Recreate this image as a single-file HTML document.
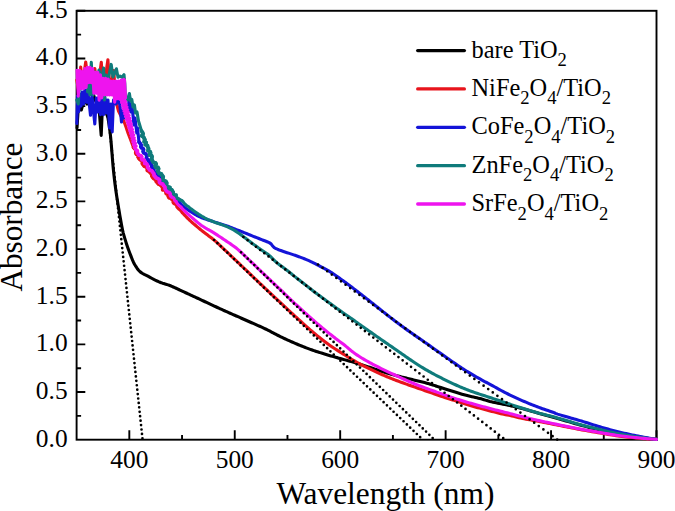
<!DOCTYPE html><html><head><meta charset="utf-8"><style>html,body{margin:0;padding:0;background:#fff;}svg{display:block;}text{font-family:"Liberation Serif", serif;fill:#000;}</style></head><body>
<svg width="675" height="511" viewBox="0 0 675 511">
<rect width="675" height="511" fill="#fff"/>
<rect x="76.6" y="10.8" width="579.90" height="428.90" fill="none" stroke="#000" stroke-width="1.9"/>
<path d="M129.32 439.7V430.20M234.75 439.7V430.20M340.19 439.7V430.20M445.63 439.7V430.20M551.06 439.7V430.20M656.50 439.7V430.20M182.04 439.7V435.00M287.47 439.7V435.00M392.91 439.7V435.00M498.35 439.7V435.00M603.78 439.7V435.00M76.6 392.04H85.30M76.6 344.39H85.30M76.6 296.73H85.30M76.6 249.08H85.30M76.6 201.42H85.30M76.6 153.77H85.30M76.6 106.11H85.30M76.6 58.46H85.30M76.6 10.80H85.30M76.6 415.87H81.10M76.6 368.22H81.10M76.6 320.56H81.10M76.6 272.91H81.10M76.6 225.25H81.10M76.6 177.59H81.10M76.6 129.94H81.10M76.6 82.28H81.10M76.6 34.63H81.10" stroke="#000" stroke-width="1.9" fill="none"/>
<path d="M77.00 128.00L78.00 112.00L79.50 106.00L81.30 110.00L83.00 104.00L85.00 100.00L87.00 104.00L89.00 98.00L91.00 106.00L93.60 95.00L95.00 100.00L97.00 103.00L99.00 108.00L101.20 135.50L102.20 112.00L104.00 108.00L106.00 112.00L108.00 118.00L108.31 120.02L108.52 121.35L108.77 122.97L109.02 124.63L109.26 126.26L109.50 127.92L109.73 129.60L109.95 131.27L110.16 132.92L110.35 134.55L110.52 136.17L110.68 137.77L110.83 139.38L110.98 141.01L111.13 142.67L111.27 144.35L111.41 146.06L111.56 147.80L111.70 149.59L111.85 151.42L112.00 153.29L112.15 155.19L112.30 157.13L112.46 159.09L112.62 161.06L112.78 163.04L112.95 165.03L113.13 167.01L113.32 168.98L113.51 170.95L113.72 172.92L113.93 174.88L114.15 176.84L114.38 178.81L114.61 180.77L114.85 182.73L115.10 184.68L115.35 186.63L115.61 188.57L115.88 190.50L116.15 192.43L116.43 194.34L116.72 196.26L117.02 198.17L117.32 200.10L117.63 202.05L117.95 204.04L118.29 206.08L118.64 208.19L119.00 210.37L119.38 212.61L119.77 214.90L120.17 217.23L120.58 219.55L120.98 221.81L121.37 223.98L121.75 226.01L122.11 227.86L122.44 229.52L122.78 231.09L123.13 232.56L123.50 233.96L123.90 235.38L124.30 236.74L124.70 238.08L125.11 239.41L125.50 240.65L125.87 241.85L126.53 243.97L127.29 246.29L127.73 247.57L128.22 248.90L128.74 250.29L129.29 251.72L129.85 253.19L130.39 254.56L130.89 255.86L131.35 257.09L131.79 258.25L132.65 260.43L133.58 262.48L134.67 264.53L135.86 266.49L137.18 268.45L138.56 270.23L140.23 271.88L142.14 273.25L144.21 274.37L146.32 275.35L148.34 276.39L150.48 277.58L151.63 278.23L152.87 278.92L154.22 279.62L155.69 280.34L157.14 281.02L158.56 281.64L159.94 282.20L161.27 282.71L162.53 283.15L163.71 283.52L165.85 284.18L168.06 284.88L169.26 285.32L170.52 285.80L171.84 286.36L173.27 286.98L174.69 287.62L176.12 288.28L177.45 288.92L178.73 289.52L179.95 290.09L181.12 290.64L183.32 291.65L184.47 292.18L185.65 292.72L186.86 293.27L188.10 293.85L189.37 294.43L190.67 295.04L192.01 295.65L193.37 296.29L194.76 296.94L196.18 297.59L197.63 298.26L199.08 298.94L200.55 299.63L202.03 300.32L203.53 301.02L205.04 301.72L206.56 302.44L208.10 303.16L209.65 303.89L211.21 304.62L212.76 305.34L214.31 306.07L215.84 306.78L217.34 307.47L218.82 308.16L220.28 308.82L221.70 309.46L223.10 310.10L224.49 310.72L225.87 311.33L227.25 311.95L228.66 312.58L230.11 313.22L231.59 313.87L233.12 314.55L234.70 315.25L236.33 315.97L237.99 316.70L239.69 317.45L241.42 318.21L243.15 318.98L244.87 319.74L246.58 320.49L248.28 321.24L249.96 321.98L251.62 322.71L253.26 323.43L254.89 324.14L256.50 324.85L258.09 325.55L259.66 326.25L261.20 326.94L262.71 327.63L264.17 328.31L265.58 328.99L266.95 329.66L268.27 330.32L269.54 330.98L270.78 331.63L271.99 332.28L273.20 332.92L274.41 333.57L275.64 334.21L276.89 334.86L278.16 335.50L279.46 336.15L280.78 336.80L282.13 337.45L283.49 338.10L284.87 338.75L286.27 339.40L287.68 340.05L289.12 340.70L290.58 341.36L292.08 342.02L293.61 342.68L295.17 343.36L296.76 344.03L298.37 344.71L299.99 345.38L301.60 346.03L303.18 346.67L304.72 347.29L306.21 347.87L307.63 348.41L308.99 348.92L310.29 349.39L311.53 349.83L312.73 350.25L313.91 350.64L315.08 351.03L316.28 351.42L317.52 351.81L318.80 352.22L320.15 352.64L321.55 353.08L323.02 353.53L324.53 353.99L326.09 354.46L327.67 354.94L329.27 355.42L330.88 355.89L332.48 356.36L334.08 356.82L335.67 357.28L337.25 357.72L338.82 358.16L340.38 358.59L341.94 359.02L343.50 359.44L345.06 359.87L346.62 360.30L348.18 360.73L349.75 361.17L351.32 361.62L352.91 362.08L354.50 362.55L356.10 363.03L357.69 363.51L359.29 363.99L360.87 364.48L362.43 364.96L363.96 365.44L365.46 365.92L366.92 366.39L368.35 366.86L369.74 367.32L371.10 367.77L372.43 368.23L373.74 368.67L375.03 369.11L376.29 369.54L377.53 369.97L378.75 370.37L379.95 370.77L381.13 371.15L382.28 371.53L384.53 372.23L386.72 372.91L388.91 373.56L391.12 374.19L393.37 374.82L395.65 375.42L397.94 376.02L400.27 376.61L401.44 376.91L402.63 377.21L403.83 377.51L405.04 377.81L406.27 378.11L407.50 378.42L408.73 378.72L409.96 379.02L411.18 379.32L412.39 379.61L413.57 379.90L415.87 380.44L418.07 380.95L420.22 381.45L422.38 381.96L424.58 382.52L426.81 383.14L429.08 383.81L430.23 384.17L431.43 384.54L432.69 384.94L434.03 385.37L435.51 385.84L437.13 386.36L438.91 386.94L440.86 387.57L442.98 388.25L445.25 388.98L447.63 389.75L450.09 390.54L452.57 391.33L455.03 392.10L457.43 392.84L459.74 393.53L461.97 394.17L464.11 394.75L466.15 395.28L468.11 395.77L469.99 396.22L471.82 396.64L473.58 397.03L475.26 397.41L476.85 397.78L478.35 398.14L479.73 398.48L481.11 398.86L482.50 399.26L483.96 399.69L485.39 400.12L486.83 400.55L488.32 400.97L489.90 401.40L491.47 401.78L493.04 402.14L494.57 402.46L496.17 402.78L497.82 403.11L499.50 403.44L501.20 403.77L502.90 404.12L504.61 404.47L506.32 404.83L508.04 405.20L509.76 405.58L511.49 405.97L513.21 406.36L514.92 406.76L516.58 407.15L518.17 407.53L519.65 407.88L521.06 408.23L522.41 408.59L523.71 408.94L524.94 409.29L526.18 409.65L527.50 410.04L528.99 410.48L530.65 410.96L532.51 411.49L534.58 412.06L536.91 412.71L539.45 413.41L542.13 414.15L544.89 414.91L547.68 415.68L550.44 416.45L553.16 417.22L555.82 417.97L558.42 418.72L560.95 419.45L563.44 420.18L565.89 420.90L568.31 421.62L570.71 422.32L573.07 423.01L575.39 423.68L577.66 424.32L579.88 424.94L582.04 425.52L584.15 426.09L586.21 426.62L588.22 427.14L590.21 427.64L592.18 428.12L594.13 428.60L596.09 429.07L598.06 429.54L600.03 430.00L602.01 430.47L604.00 430.93L606.00 431.39L608.00 431.85L610.00 432.29L612.00 432.73L614.00 433.16L616.00 433.58L618.01 433.98L620.03 434.37L622.05 434.75L624.08 435.12L626.12 435.47L628.15 435.81L630.18 436.14L632.20 436.45L634.18 436.75L636.14 437.04L638.08 437.31L640.00 437.57L641.91 437.82L643.81 438.05L645.68 438.27L647.52 438.48L649.30 438.67L650.98 438.84L652.52 439.00L654.31 439.18L655.53 439.30L656.50 439.40" stroke="#000000" stroke-width="3.1" fill="none" stroke-linejoin="round" stroke-linecap="round"/>
<path d="M76.80 80.00L78.50 90.00L80.70 67.00L82.50 85.00L85.70 62.00L88.00 80.00L90.00 75.00L92.00 85.00L94.80 68.50L97.00 85.00L99.00 80.00L101.30 62.20L103.00 90.00L105.00 80.00L107.90 59.70L110.00 90.00L112.00 80.00L113.80 70.60L115.00 90.00L116.40 103.00L118.50 111.00L121.00 116.00L124.00 121.50L126.00 127.00L128.00 133.00L130.50 139.50L133.50 147.50L135.28 149.28L136.14 150.85L135.70 152.79L136.33 154.23L138.17 154.99L138.06 156.88L138.83 158.24L139.81 159.47L141.51 160.26L142.34 161.65L142.36 163.62L143.33 164.99L144.37 166.34L146.36 167.04L147.36 168.46L147.34 170.64L149.24 171.40L150.30 172.80L151.65 173.96L151.85 176.05L152.84 177.51L153.97 178.84L155.99 179.42L156.23 181.48L157.42 182.75L158.47 184.13L160.29 184.92L161.60 186.12L162.70 187.49L162.65 189.80L164.85 190.29L165.88 191.70L166.18 193.69L168.02 194.38L168.19 196.37L169.01 197.77L170.90 198.29L171.86 199.46L172.92 200.51L172.97 202.33L173.87 203.59L175.42 204.30L176.44 205.39L176.90 206.96L177.96 208.11L179.01 209.32L180.41 210.25L181.38 211.48L182.30 212.83L183.53 213.92L184.58 215.14L185.66 216.26L186.69 217.32L187.67 218.31L188.59 219.23L189.47 220.07L190.41 220.93L191.43 221.84L192.43 222.71L193.42 223.57L194.51 224.50L195.69 225.50L196.98 226.59L198.17 227.60L199.27 228.52L200.38 229.45L201.52 230.39L202.60 231.25L203.61 232.05L205.55 233.53L206.58 234.30L207.64 235.09L208.72 235.88L209.80 236.69L210.89 237.51L211.96 238.34L213.00 239.17L214.02 240.00L215.01 240.83L215.97 241.66L216.90 242.49L217.83 243.34L218.74 244.19L219.66 245.05L220.60 245.94L221.56 246.86L222.56 247.80L223.59 248.78L224.65 249.79L225.76 250.83L226.89 251.90L228.05 253.00L229.22 254.12L230.41 255.25L231.61 256.38L232.80 257.52L234.00 258.66L235.20 259.80L236.41 260.94L237.61 262.09L238.82 263.23L240.02 264.37L241.22 265.51L242.41 266.64L243.58 267.75L244.72 268.84L245.84 269.90L246.92 270.92L247.96 271.92L248.97 272.88L249.95 273.82L250.90 274.73L251.83 275.63L252.75 276.51L253.67 277.38L254.58 278.25L255.48 279.12L256.37 279.97L257.25 280.80L258.12 281.63L259.85 283.27L260.72 284.10L261.63 284.96L262.59 285.86L263.61 286.83L264.72 287.88L265.92 289.01L267.21 290.23L268.59 291.53L270.05 292.91L271.58 294.36L273.16 295.85L274.78 297.37L276.40 298.90L278.03 300.43L279.65 301.95L281.27 303.46L282.88 304.96L284.47 306.45L286.06 307.93L287.65 309.40L289.23 310.87L290.81 312.32L292.37 313.76L293.92 315.18L295.46 316.58L296.98 317.97L298.48 319.34L299.98 320.69L301.46 322.02L302.92 323.33L304.35 324.62L305.75 325.87L307.11 327.07L308.42 328.23L309.66 329.32L310.83 330.34L311.93 331.29L312.96 332.18L313.92 333.01L315.71 334.51L317.42 335.92L319.16 337.32L321.01 338.78L321.97 339.53L322.95 340.28L323.94 341.04L324.95 341.80L325.96 342.56L326.97 343.30L327.97 344.03L328.97 344.75L329.95 345.44L331.87 346.76L333.75 348.02L335.68 349.26L336.71 349.92L337.79 350.61L338.96 351.34L340.20 352.13L341.53 352.97L342.94 353.86L344.42 354.80L345.97 355.78L347.56 356.77L349.17 357.77L350.80 358.77L352.43 359.75L354.05 360.70L355.65 361.62L357.24 362.52L358.82 363.38L360.38 364.22L361.94 365.03L363.50 365.84L365.06 366.63L366.62 367.40L368.18 368.17L369.74 368.93L371.30 369.69L372.87 370.44L374.44 371.18L376.01 371.91L377.58 372.64L379.15 373.36L380.72 374.06L382.29 374.76L383.86 375.44L385.43 376.11L387.00 376.77L388.56 377.42L390.12 378.05L391.68 378.67L393.24 379.28L394.80 379.88L396.36 380.48L397.92 381.06L399.47 381.64L401.02 382.21L402.55 382.77L404.07 383.32L405.57 383.86L407.06 384.39L408.55 384.92L410.06 385.45L411.61 385.98L413.21 386.54L414.90 387.12L416.69 387.75L418.61 388.41L420.65 389.12L422.81 389.88L425.07 390.67L427.41 391.49L429.80 392.33L432.19 393.16L434.53 393.97L436.79 394.75L438.95 395.49L440.99 396.18L442.91 396.82L444.70 397.41L446.39 397.96L447.99 398.47L449.54 398.96L451.05 399.44L452.54 399.91L454.03 400.37L455.53 400.84L457.04 401.32L458.56 401.80L460.09 402.29L461.62 402.78L463.17 403.27L464.71 403.77L466.26 404.26L467.83 404.74L469.42 405.23L471.03 405.71L472.67 406.20L474.34 406.68L476.04 407.16L477.76 407.64L479.51 408.12L481.26 408.59L483.02 409.06L484.78 409.53L486.53 409.99L488.29 410.45L490.07 410.91L491.87 411.38L493.68 411.85L495.49 412.31L497.30 412.78L499.06 413.22L500.74 413.64L502.37 414.04L503.64 414.32L505.46 414.62L507.14 414.88L508.96 415.20L510.23 415.48L511.86 415.89L513.54 416.31L515.30 416.75L517.11 417.20L518.92 417.63L520.72 418.04L522.50 418.43L524.25 418.79L525.97 419.13L527.68 419.45L529.38 419.75L531.11 420.05L532.85 420.35L534.61 420.65L536.40 420.97L538.22 421.30L540.08 421.64L541.98 422.00L543.91 422.37L545.87 422.76L547.85 423.15L549.86 423.56L551.89 423.97L553.91 424.38L555.94 424.78L557.96 425.19L559.98 425.59L561.99 425.99L564.00 426.39L566.00 426.79L568.00 427.18L570.00 427.58L572.00 427.97L574.00 428.35L576.00 428.74L578.00 429.12L580.00 429.49L582.00 429.86L584.00 430.22L586.00 430.58L588.00 430.94L590.00 431.29L592.00 431.63L594.00 431.98L596.00 432.32L598.00 432.66L600.00 433.00L602.00 433.34L604.00 433.68L606.00 434.01L608.00 434.35L610.00 434.67L612.00 434.99L614.00 435.31L616.00 435.61L618.01 435.90L620.03 436.17L622.05 436.43L624.08 436.68L626.12 436.92L628.15 437.15L630.18 437.36L632.20 437.56L634.18 437.76L636.14 437.94L638.08 438.12L640.00 438.28L641.91 438.44L643.81 438.58L645.68 438.72L647.52 438.84L649.30 438.96L650.98 439.07L652.52 439.16L654.31 439.27L655.53 439.34L656.50 439.40" stroke="#e8141c" stroke-width="3.1" fill="none" stroke-linejoin="round" stroke-linecap="round"/>
<path d="M133.50 147.50L135.28 149.28L136.14 150.85L135.70 152.79L136.33 154.23L138.17 154.99L138.06 156.88L138.83 158.24L139.81 159.47L141.51 160.26L142.34 161.65L142.36 163.62L143.33 164.99L144.37 166.34L146.36 167.04L147.36 168.46L147.34 170.64L149.24 171.40L150.30 172.80L151.65 173.96L151.85 176.05L152.84 177.51L153.97 178.84L155.99 179.42L156.23 181.48L157.42 182.75L158.47 184.13L160.29 184.92L161.60 186.12L162.70 187.49L162.65 189.80" stroke="#e8141c" stroke-width="3.7" fill="none" stroke-linejoin="round" stroke-linecap="round"/>
<path d="M164.85 190.29L165.88 191.70L166.18 193.69L168.02 194.38L168.19 196.37L169.01 197.77L170.90 198.29L171.86 199.46" stroke="#e8141c" stroke-width="3.40" fill="none" stroke-linejoin="round" stroke-linecap="round"/>
<path d="M76.80 123.50L77.50 96.00L78.70 111.70L79.80 94.00L81.00 106.00L82.20 92.00L83.50 104.00L84.80 90.00L86.60 102.30L88.00 92.00L90.50 115.30L92.00 96.00L94.80 124.00L96.30 98.00L97.50 112.00L99.00 97.00L100.50 114.70L102.00 96.00L103.50 114.70L105.00 98.00L106.50 113.00L108.00 100.00L109.50 128.00L111.00 104.00L112.20 132.00L113.50 100.00L116.00 104.00L118.20 97.50L120.00 106.00L121.50 122.00L122.50 111.00L124.00 118.00L126.00 104.00L127.50 113.00L129.00 101.00L131.00 112.00L132.00 106.00L134.00 125.00L135.00 118.00L136.80 133.00L137.50 128.00L139.00 142.00L140.51 143.90L141.16 144.96L140.79 146.61L141.43 147.73L142.90 148.40L143.59 149.56L143.12 151.54L143.82 152.81L145.38 153.57L146.17 154.58L146.92 155.79L146.47 157.74L146.92 159.34L148.92 160.25L148.72 162.24L150.50 163.20L151.16 164.62L151.88 165.87L151.53 167.56L153.80 169.06L153.56 171.02L154.69 172.25L155.39 173.73L157.36 174.25L158.48 175.49L158.59 177.54L160.60 178.08L161.77 179.29L162.80 180.65L162.89 182.76L163.75 184.29L164.95 185.57L166.98 186.22L167.96 187.65L168.06 189.70L169.16 190.99L169.94 192.52L172.05 193.04L172.18 195.05L173.11 196.45L174.25 197.67L176.05 198.28L177.04 199.62L177.82 201.17L179.32 202.06L180.48 203.28L181.45 204.72L182.73 205.89L184.11 207.03L185.60 208.14L187.15 209.28L188.75 210.38L190.38 211.46L191.98 212.48L193.53 213.46L195.04 214.38L196.59 215.28L198.25 216.14L199.73 216.86L201.04 217.43L203.27 218.28L204.46 218.71L205.66 219.12L206.87 219.53L208.05 219.92L209.19 220.30L211.56 221.09L213.02 221.57L214.63 222.10L216.13 222.57L217.61 223.04L219.12 223.50L220.68 223.97L222.26 224.43L223.84 224.90L225.42 225.39L227.00 225.92L228.56 226.49L230.13 227.10L231.68 227.73L233.24 228.37L234.80 228.99L236.37 229.60L237.94 230.21L239.50 230.80L241.06 231.40L242.59 232.00L244.08 232.59L245.54 233.19L247.00 233.78L248.49 234.39L250.03 235.01L251.63 235.65L253.29 236.32L254.98 236.98L256.65 237.65L258.30 238.30L259.96 238.95L261.61 239.59L263.20 240.21L264.66 240.77L265.91 241.27L267.05 241.73L269.20 242.65L271.06 243.87L272.40 245.70L273.88 247.33L274.95 248.02L276.12 248.61L277.34 249.19L278.61 249.74L280.10 250.32L281.51 250.83L282.78 251.26L284.91 251.96L287.07 252.65L289.35 253.39L290.75 253.86L292.29 254.37L293.70 254.85L295.03 255.31L296.34 255.77L297.63 256.22L298.89 256.67L300.13 257.11L301.41 257.59L302.81 258.13L304.37 258.77L305.79 259.36L306.99 259.87L308.89 260.70L310.78 261.55L311.99 262.12L313.44 262.82L315.14 263.68L316.81 264.55L318.47 265.44L320.16 266.34L321.59 267.11L322.77 267.73L324.57 268.68L326.39 269.65L328.21 270.65L329.99 271.70L331.13 272.42L332.53 273.32L333.91 274.24L335.02 275.01L336.78 276.24L338.72 277.62L339.77 278.36L340.88 279.15L342.03 279.98L343.21 280.83L344.42 281.71L345.64 282.60L346.87 283.51L348.09 284.41L349.30 285.31L350.49 286.20L351.67 287.08L352.84 287.97L354.01 288.86L355.18 289.76L356.35 290.66L357.52 291.56L358.69 292.47L359.86 293.38L361.03 294.29L362.20 295.20L363.38 296.12L364.55 297.04L365.73 297.96L366.90 298.89L368.08 299.82L369.26 300.75L370.44 301.69L371.63 302.62L372.81 303.56L374.00 304.50L375.19 305.44L376.38 306.39L377.58 307.34L378.77 308.29L379.97 309.24L381.17 310.19L382.37 311.14L383.58 312.10L384.79 313.05L386.00 314.00L387.22 314.96L388.45 315.92L389.69 316.88L390.93 317.85L392.17 318.81L393.41 319.77L394.64 320.72L395.87 321.66L397.09 322.58L398.29 323.49L399.45 324.36L400.58 325.20L401.68 326.01L402.77 326.81L403.86 327.61L404.98 328.42L406.14 329.25L407.36 330.12L408.65 331.04L410.02 332.02L411.47 333.03L412.97 334.08L414.52 335.15L416.12 336.26L417.77 337.40L419.48 338.58L421.26 339.81L423.11 341.09L425.03 342.43L427.05 343.84L429.20 345.35L431.51 346.97L433.95 348.70L436.47 350.48L439.03 352.29L441.57 354.09L444.05 355.84L446.41 357.50L448.62 359.05L450.63 360.45L452.43 361.70L454.06 362.83L455.55 363.86L456.93 364.81L458.24 365.71L459.51 366.56L460.77 367.40L462.06 368.24L463.40 369.11L464.83 370.02L466.35 370.96L467.94 371.93L469.57 372.91L471.22 373.89L472.87 374.87L474.51 375.82L476.09 376.74L477.61 377.61L479.04 378.42L480.35 379.17L481.52 379.83L483.75 381.03L485.16 381.77L486.57 382.50L487.79 383.13L490.05 384.33L491.40 385.07L492.86 385.88L494.42 386.75L496.06 387.66L497.74 388.60L499.46 389.55L501.20 390.50L502.92 391.43L504.62 392.33L506.29 393.19L507.93 394.01L509.56 394.81L511.19 395.60L512.82 396.38L514.45 397.14L516.08 397.89L517.71 398.63L519.34 399.36L520.97 400.08L522.60 400.80L524.23 401.50L525.86 402.20L527.49 402.88L529.12 403.56L530.75 404.22L532.38 404.88L534.01 405.52L535.64 406.16L537.27 406.78L538.92 407.40L540.64 408.03L542.44 408.67L544.31 409.32L546.19 409.96L548.04 410.58L549.81 411.17L551.45 411.71L552.91 412.21L554.14 412.63L555.44 413.39L557.63 414.14L559.20 414.61L560.96 415.13L562.83 415.68L564.75 416.24L566.64 416.79L568.42 417.31L570.03 417.77L571.41 418.17L572.79 418.57L574.13 418.94L575.54 419.32L577.03 419.74L578.52 420.16L580.08 420.63L581.60 421.09L583.32 421.63L585.20 422.22L587.20 422.85L589.30 423.52L591.46 424.20L593.63 424.87L595.80 425.54L597.92 426.18L599.98 426.79L602.00 427.38L604.00 427.95L606.00 428.51L608.00 429.07L610.00 429.62L612.00 430.15L614.00 430.68L616.00 431.20L618.00 431.70L620.01 432.20L622.02 432.68L624.06 433.15L626.11 433.61L628.17 434.06L630.21 434.50L632.24 434.93L634.24 435.34L636.21 435.74L638.12 436.13L640.00 436.50L641.88 436.86L643.79 437.21L645.72 437.56L647.62 437.89L649.47 438.21L651.21 438.51L652.81 438.78L654.24 439.02L655.45 439.22L656.50 439.40" stroke="#1414d8" stroke-width="3.1" fill="none" stroke-linejoin="round" stroke-linecap="round"/>
<path d="M139.00 142.00L140.51 143.90L141.16 144.96L140.79 146.61L141.43 147.73L142.90 148.40L143.59 149.56L143.12 151.54L143.82 152.81L145.38 153.57L146.17 154.58L146.92 155.79L146.47 157.74L146.92 159.34L148.92 160.25L148.72 162.24L150.50 163.20L151.16 164.62L151.88 165.87L151.53 167.56L153.80 169.06L153.56 171.02L154.69 172.25L155.39 173.73L157.36 174.25L158.48 175.49L158.59 177.54L160.60 178.08L161.77 179.29L162.80 180.65L162.89 182.76L163.75 184.29L164.95 185.57L166.98 186.22" stroke="#1414d8" stroke-width="3.7" fill="none" stroke-linejoin="round" stroke-linecap="round"/>
<path d="M166.98 186.22L167.96 187.65L168.06 189.70L169.16 190.99L169.94 192.52L172.05 193.04L172.18 195.05L173.11 196.45L174.25 197.67" stroke="#1414d8" stroke-width="3.40" fill="none" stroke-linejoin="round" stroke-linecap="round"/>
<path d="M76.80 100.00L78.30 104.00L79.50 80.00L80.70 89.00L82.00 75.00L84.00 82.00L86.00 70.00L87.70 92.00L88.60 72.00L89.90 95.00L91.30 62.30L93.00 95.00L95.00 72.00L97.00 80.00L99.00 70.00L101.00 82.00L103.60 68.00L104.50 100.00L106.00 75.00L108.00 80.00L111.20 64.40L113.00 77.00L116.40 68.80L118.00 77.30L120.00 76.00L122.00 77.30L124.00 74.70L124.80 84.00L125.30 96.00L127.50 100.00L129.40 93.50L130.50 101.00L131.80 99.50L133.00 107.00L134.40 105.00L135.50 113.00L137.00 112.00L138.50 121.00L140.00 126.00L141.50 131.00L142.48 132.46L143.06 133.82L141.64 135.89L143.56 136.92L144.10 138.34L144.92 139.67L144.12 141.71L146.18 142.50L145.24 144.66L147.42 145.47L147.77 147.13L148.56 148.66L147.97 150.67L150.04 151.50L150.58 152.88L149.38 154.97L151.52 155.46L152.00 156.60L151.67 159.36L152.85 161.48L153.47 162.56L155.52 162.91L156.13 164.04L155.05 166.09L155.69 167.26L158.02 167.54L158.62 168.79L157.60 170.97L158.57 172.09L159.18 173.47L161.34 174.01L162.16 175.39L163.16 176.74L162.69 179.05L163.67 180.56L165.87 181.36L166.72 183.00L166.46 185.35L167.45 186.88L169.91 187.31L169.63 189.55L171.77 189.93L172.62 191.14L173.34 192.37L173.07 194.46L174.34 195.07L176.19 194.97L175.92 197.04L177.80 198.48L179.68 199.80L181.96 200.56L183.38 202.13L184.80 204.06L186.57 205.55L188.54 206.77L189.51 207.61L190.51 208.43L191.64 209.28L192.88 210.21L194.23 211.19L195.69 212.22L197.26 213.31L198.82 214.35L200.38 215.34L201.94 216.29L203.50 217.18L205.06 218.03L206.62 218.82L208.18 219.57L209.74 220.26L211.30 220.92L212.86 221.54L214.42 222.13L215.98 222.70L217.54 223.25L219.11 223.78L220.69 224.31L222.26 224.85L223.84 225.41L225.41 226.00L226.99 226.63L228.56 227.31L230.12 228.05L231.68 228.85L233.24 229.71L234.80 230.64L236.36 231.63L237.92 232.67L239.48 233.75L241.03 234.87L242.58 236.01L244.14 237.18L245.59 238.27L246.94 239.29L248.20 240.25L249.37 241.14L250.47 241.97L251.49 242.73L253.38 244.15L254.36 244.88L255.35 245.61L256.33 246.32L258.29 247.76L259.35 248.50L260.42 249.26L261.51 250.00L262.61 250.75L263.72 251.49L264.89 252.27L266.00 253.01L267.09 253.76L268.14 254.55L269.16 255.40L270.14 256.26L271.12 257.17L272.07 258.10L273.03 259.07L274.01 260.05L275.04 261.05L276.12 262.02L277.27 263.01L278.48 263.99L279.74 264.96L281.04 265.94L282.30 266.87L283.51 267.74L284.67 268.58L285.80 269.40L286.89 270.23L287.94 271.04L288.93 271.83L289.97 272.65L291.04 273.52L292.16 274.42L293.33 275.35L294.54 276.33L295.83 277.36L297.19 278.44L298.63 279.58L300.14 280.77L301.72 282.01L303.34 283.28L304.99 284.57L306.62 285.85L308.19 287.07L309.67 288.22L311.04 289.28L312.28 290.24L313.49 291.17L314.65 292.04L315.79 292.90L316.95 293.75L318.13 294.63L319.35 295.53L320.64 296.49L321.96 297.46L323.23 298.41L324.48 299.34L325.70 300.24L326.93 301.14L328.17 302.05L329.42 302.96L330.65 303.85L331.94 304.79L333.27 305.76L334.63 306.74L335.99 307.72L337.32 308.67L338.61 309.60L339.86 310.49L341.06 311.34L342.22 312.16L343.33 312.94L344.42 313.70L345.51 314.46L346.61 315.23L347.74 316.02L348.92 316.84L350.16 317.71L351.47 318.62L352.84 319.59L354.28 320.61L355.79 321.67L357.34 322.77L358.92 323.89L360.53 325.03L362.15 326.17L363.76 327.31L365.37 328.45L366.96 329.57L368.55 330.68L370.12 331.79L371.68 332.88L373.24 333.98L374.80 335.07L376.36 336.15L377.92 337.24L379.48 338.33L381.05 339.42L382.63 340.52L384.22 341.61L385.82 342.72L387.43 343.82L389.03 344.93L390.63 346.03L392.22 347.11L393.77 348.18L395.29 349.22L396.75 350.24L398.15 351.21L399.49 352.15L400.78 353.05L402.01 353.92L403.20 354.77L404.37 355.60L405.54 356.43L406.73 357.26L407.95 358.11L409.22 358.98L410.54 359.87L411.91 360.80L413.34 361.75L414.82 362.72L416.33 363.71L417.87 364.71L419.42 365.70L420.99 366.69L422.55 367.66L424.12 368.61L425.69 369.55L427.25 370.46L428.80 371.35L430.36 372.22L431.92 373.08L433.48 373.92L435.04 374.75L436.60 375.57L438.17 376.39L439.74 377.19L441.30 377.99L442.87 378.78L444.44 379.56L446.01 380.34L447.58 381.10L449.15 381.86L450.72 382.61L452.29 383.34L453.86 384.06L455.42 384.77L456.98 385.47L458.53 386.15L460.08 386.82L461.62 387.47L463.17 388.11L464.71 388.74L466.26 389.37L467.83 389.98L469.42 390.59L471.03 391.19L472.67 391.79L474.34 392.38L476.04 392.97L477.76 393.55L479.51 394.12L481.26 394.69L483.02 395.26L484.78 395.82L486.52 396.38L488.24 396.94L489.95 397.50L491.63 398.06L493.30 398.61L494.95 399.17L496.58 399.72L498.21 400.27L499.83 400.82L501.45 401.37L503.07 401.91L504.69 402.46L506.31 403.00L507.93 403.54L509.56 404.08L511.19 404.61L512.82 405.15L514.45 405.68L516.08 406.21L517.71 406.74L519.34 407.26L520.97 407.78L522.60 408.29L524.23 408.81L525.86 409.32L527.49 409.82L529.12 410.32L530.75 410.82L532.38 411.31L534.01 411.79L535.65 412.26L537.32 412.73L539.02 413.20L540.76 413.66L542.54 414.12L544.34 414.57L546.14 415.02L547.91 415.45L549.59 415.85L551.23 416.25L552.52 416.56L554.36 417.06L556.10 417.58L558.06 418.19L559.43 418.59L561.15 419.08L562.90 419.57L564.70 420.08L566.47 420.58L568.14 421.05L569.77 421.52L571.31 421.97L572.76 422.41L574.23 422.86L575.64 423.29L577.07 423.72L578.59 424.16L580.15 424.61L581.81 425.06L583.59 425.53L585.41 426.00L587.36 426.49L589.40 427.01L591.49 427.53L593.61 428.05L595.73 428.57L597.84 429.07L599.91 429.57L601.97 430.05L603.99 430.53L606.00 430.99L608.00 431.44L610.00 431.89L612.00 432.33L614.00 432.76L616.00 433.17L618.01 433.58L620.03 433.98L622.05 434.36L624.08 434.73L626.12 435.09L628.15 435.43L630.18 435.77L632.20 436.10L634.18 436.41L636.14 436.71L638.08 437.00L640.00 437.28L641.91 437.55L643.81 437.81L645.68 438.06L647.52 438.30L649.30 438.52L650.98 438.73L652.52 438.92L654.31 439.13L655.53 439.28L656.50 439.40" stroke="#0f7b7b" stroke-width="3.1" fill="none" stroke-linejoin="round" stroke-linecap="round"/>
<path d="M141.50 131.00L142.48 132.46L143.06 133.82L141.64 135.89L143.56 136.92L144.10 138.34L144.92 139.67L144.12 141.71L146.18 142.50L145.24 144.66L147.42 145.47L147.77 147.13L148.56 148.66L147.97 150.67L150.04 151.50L150.58 152.88L149.38 154.97L151.52 155.46L152.00 156.60L151.67 159.36L152.85 161.48L153.47 162.56L155.52 162.91L156.13 164.04L155.05 166.09L155.69 167.26L158.02 167.54L158.62 168.79L157.60 170.97L158.57 172.09L159.18 173.47L161.34 174.01L162.16 175.39L163.16 176.74L162.69 179.05L163.67 180.56L165.87 181.36L166.72 183.00L166.46 185.35L167.45 186.88L169.91 187.31L169.63 189.55L171.77 189.93" stroke="#0f7b7b" stroke-width="3.9" fill="none" stroke-linejoin="round" stroke-linecap="round"/>
<path d="M171.77 189.93L172.62 191.14L173.34 192.37L173.07 194.46L174.34 195.07L176.19 194.97L175.92 197.04L177.80 198.48L179.68 199.80" stroke="#0f7b7b" stroke-width="3.50" fill="none" stroke-linejoin="round" stroke-linecap="round"/>
<path d="M77.00 70.40L78.30 96.25L79.60 70.40L80.90 88.60L82.20 71.65L83.50 88.60L84.80 68.60L86.10 87.40L87.40 67.40L88.70 82.60L90.00 67.40L91.30 82.60L92.60 68.60L93.90 93.30L95.20 72.40L96.50 93.30L97.80 72.40L99.10 100.30L100.40 74.80L101.70 98.00L103.00 78.40L104.30 95.00L105.60 78.40L106.90 95.00L108.20 78.94L109.50 95.00L110.80 81.10L112.10 95.00L113.40 81.10L114.70 102.10L116.00 81.10L117.30 98.80L118.60 81.10L119.90 99.30L121.20 80.08L122.50 100.60L123.80 79.40L124.50 80.00L125.50 98.00L120.80 100.00L125.56 101.40L121.59 102.80L126.28 104.20L122.38 105.60L126.99 107.00L123.16 108.40L127.71 109.80L123.95 111.20L128.43 112.60L124.74 114.00L129.15 115.40L125.55 116.80L129.84 118.20L126.41 119.60L130.53 121.00L127.28 122.40L131.22 123.80L128.14 125.20L131.86 126.60L128.92 128.00L132.46 129.40L129.70 130.80L133.06 132.20L130.48 133.60L133.66 135.00L131.26 136.40L134.26 137.80L132.03 139.20L134.89 140.60L132.80 142.00L135.52 143.40L133.57 144.80L136.15 146.20L134.34 147.60L137.43 150.87L137.26 152.77L138.24 153.93L138.93 155.21L140.89 155.54L141.70 156.70L141.51 158.57L142.19 159.79L144.20 160.09L144.83 161.43L144.71 163.34L146.66 163.85L147.55 165.17L147.58 167.18L148.75 168.44L149.66 169.92L151.63 170.63L152.64 172.09L153.76 173.46L154.12 175.44L155.31 176.74L156.38 178.11L158.28 178.78L159.57 179.97L159.46 182.30L160.81 183.45L162.78 184.12L163.70 185.65L164.94 186.91L165.11 189.02L166.04 190.52L167.16 191.85L169.25 192.38L170.21 193.78L170.41 195.76L171.52 196.98L173.33 197.61L174.22 198.95L174.71 200.59L176.17 201.43L176.78 203.00L177.82 204.24L178.97 205.45L180.44 206.43L181.54 207.64L182.44 208.95L183.51 209.97L184.53 210.93L185.47 211.81L187.06 213.30L188.58 214.69L190.13 216.07L191.71 217.44L193.31 218.79L194.90 220.13L196.47 221.45L198.14 222.84L199.14 223.64L200.26 224.51L201.48 225.40L202.81 226.32L204.26 227.25L205.86 228.24L207.36 229.13L208.80 229.94L210.16 230.70L211.47 231.44L212.73 232.18L213.93 232.92L215.06 233.64L216.22 234.39L217.42 235.17L218.63 235.96L219.84 236.77L221.06 237.58L222.29 238.39L223.51 239.21L224.74 240.03L225.98 240.85L227.21 241.68L228.44 242.51L229.66 243.34L230.85 244.15L231.99 244.94L233.07 245.70L234.15 246.48L235.21 247.27L236.23 248.07L237.26 248.91L238.34 249.84L239.41 250.77L240.48 251.74L241.50 252.68L242.49 253.61L243.48 254.55L244.44 255.47L245.33 256.32L246.25 257.19L247.17 258.08L248.11 258.99L249.07 259.91L250.05 260.84L251.04 261.79L252.06 262.75L253.09 263.73L254.13 264.72L255.17 265.71L256.19 266.68L257.18 267.62L258.20 268.59L259.19 269.54L260.14 270.45L261.10 271.37L262.03 272.27L262.96 273.17L263.94 274.11L264.93 275.06L266.01 276.08L267.19 277.21L268.46 278.40L269.87 279.73L271.38 281.15L272.97 282.65L274.62 284.20L276.28 285.77L277.95 287.34L279.60 288.90L281.23 290.45L282.84 291.99L284.43 293.51L286.01 295.02L287.58 296.53L289.15 298.04L290.72 299.54L292.29 301.04L293.86 302.53L295.44 304.02L297.03 305.50L298.63 306.97L300.23 308.44L301.84 309.90L303.45 311.35L305.05 312.79L306.62 314.20L308.16 315.57L309.65 316.89L311.07 318.15L312.43 319.35L313.72 320.49L314.94 321.56L316.10 322.58L317.21 323.55L318.28 324.49L319.34 325.40L320.40 326.30L321.47 327.21L322.57 328.12L323.69 329.05L324.85 330.00L326.05 330.96L327.27 331.93L328.50 332.91L329.74 333.88L330.97 334.84L332.18 335.78L333.35 336.69L334.49 337.56L335.58 338.40L336.63 339.20L337.63 339.95L339.52 341.37L341.32 342.71L343.15 344.10L345.03 345.57L346.00 346.36L346.98 347.17L347.97 348.00L348.99 348.86L350.02 349.73L351.08 350.61L352.19 351.50L353.35 352.40L354.57 353.31L355.86 354.22L357.22 355.14L358.64 356.07L360.12 357.01L361.66 357.95L363.24 358.90L364.84 359.84L366.45 360.77L368.06 361.68L369.67 362.57L371.27 363.45L372.86 364.30L374.44 365.13L376.01 365.93L377.58 366.73L379.15 367.50L380.72 368.27L382.29 369.04L383.86 369.79L385.43 370.55L387.00 371.30L388.56 372.05L390.12 372.79L391.68 373.53L393.24 374.27L394.80 375.00L396.36 375.73L397.92 376.45L399.47 377.17L401.02 377.88L402.55 378.58L404.07 379.26L405.57 379.94L407.06 380.62L408.55 381.28L410.06 381.95L411.61 382.62L413.21 383.30L414.90 384.00L416.69 384.72L418.61 385.48L420.65 386.26L422.81 387.07L425.07 387.91L427.41 388.76L429.80 389.62L432.19 390.48L434.53 391.31L436.79 392.11L438.95 392.87L440.99 393.59L442.91 394.27L444.70 394.90L446.39 395.49L447.99 396.05L449.54 396.59L451.05 397.11L452.54 397.61L454.03 398.11L455.53 398.61L457.04 399.10L458.56 399.58L460.09 400.07L461.62 400.55L463.17 401.02L464.71 401.49L466.26 401.95L467.83 402.41L469.42 402.88L471.03 403.34L472.67 403.81L474.34 404.28L476.04 404.75L477.76 405.23L479.51 405.71L481.26 406.18L483.02 406.65L484.78 407.12L486.53 407.58L488.29 408.05L490.07 408.51L491.87 408.97L493.68 409.44L495.49 409.90L497.30 410.35L499.06 410.80L500.74 411.22L502.37 411.62L503.64 411.94L505.46 412.39L507.14 412.82L508.98 413.30L510.27 413.64L511.91 414.06L513.59 414.50L515.36 414.96L517.16 415.42L518.96 415.88L520.72 416.32L522.44 416.75L524.11 417.16L525.74 417.56L527.33 417.94L528.91 418.32L530.50 418.69L532.11 419.06L533.76 419.44L535.47 419.83L537.24 420.22L539.08 420.63L540.99 421.04L542.97 421.47L545.02 421.90L547.12 422.34L549.26 422.79L551.41 423.24L553.57 423.68L555.71 424.12L557.83 424.56L559.93 424.99L561.99 425.41L564.04 425.83L566.06 426.24L568.06 426.64L570.06 427.05L572.05 427.45L574.04 427.84L576.03 428.23L578.02 428.61L580.01 428.99L582.00 429.36L584.00 429.72L586.00 430.08L588.00 430.44L590.00 430.79L592.00 431.13L594.00 431.48L596.00 431.82L598.00 432.16L600.00 432.50L602.00 432.85L604.00 433.19L606.00 433.54L608.00 433.88L610.00 434.22L612.00 434.55L614.00 434.87L616.00 435.18L618.01 435.48L620.03 435.77L622.05 436.04L624.08 436.30L626.12 436.54L628.15 436.78L630.18 437.00L632.20 437.21L634.18 437.42L636.14 437.62L638.08 437.81L640.00 437.99L641.91 438.17L643.81 438.34L645.68 438.51L647.52 438.67L649.30 438.82L650.98 438.95L652.52 439.08L654.31 439.22L655.53 439.32L656.50 439.40" stroke="#ee14ee" stroke-width="3.1" fill="none" stroke-linejoin="round" stroke-linecap="round"/>
<path d="M136.00 150.00L137.43 150.87L137.26 152.77L138.24 153.93L138.93 155.21L140.89 155.54L141.70 156.70L141.51 158.57L142.19 159.79L144.20 160.09L144.83 161.43L144.71 163.34L146.66 163.85L147.55 165.17L147.58 167.18L148.75 168.44L149.66 169.92L151.63 170.63L152.64 172.09L153.76 173.46L154.12 175.44L155.31 176.74L156.38 178.11L158.28 178.78L159.57 179.97L159.46 182.30L160.81 183.45L162.78 184.12L163.70 185.65" stroke="#ee14ee" stroke-width="3.7" fill="none" stroke-linejoin="round" stroke-linecap="round"/>
<path d="M163.70 185.65L164.94 186.91L165.11 189.02L166.04 190.52L167.16 191.85L169.25 192.38L170.21 193.78L170.41 195.76L171.52 196.98" stroke="#ee14ee" stroke-width="3.40" fill="none" stroke-linejoin="round" stroke-linecap="round"/>
<path d="M110 133L142.6 439.7" stroke="#000" stroke-width="2.7" stroke-dasharray="0 4.45" stroke-linecap="round" fill="none"/>
<path d="M214.1 240L422.8 439.7" stroke="#000" stroke-width="2.7" stroke-dasharray="0 4.6" stroke-linecap="round" fill="none"/>
<path d="M241.1 252.3L434.4 439.7" stroke="#000" stroke-width="2.7" stroke-dasharray="0 4.6" stroke-linecap="round" fill="none"/>
<path d="M243.4 237L505.2 439.7" stroke="#000" stroke-width="2.7" stroke-dasharray="0 5.3" stroke-linecap="round" fill="none"/>
<path d="M318 264.5L557.4 439.7" stroke="#000" stroke-width="2.7" stroke-dasharray="0 5.7" stroke-linecap="round" fill="none"/>
<text x="129.32" y="468.3" font-size="25.4" text-anchor="middle">400</text>
<text x="234.75" y="468.3" font-size="25.4" text-anchor="middle">500</text>
<text x="340.19" y="468.3" font-size="25.4" text-anchor="middle">600</text>
<text x="445.63" y="468.3" font-size="25.4" text-anchor="middle">700</text>
<text x="551.06" y="468.3" font-size="25.4" text-anchor="middle">800</text>
<text x="656.50" y="468.3" font-size="25.4" text-anchor="middle">900</text>
<text x="67.6" y="446.70" font-size="25.4" text-anchor="end">0.0</text>
<text x="67.6" y="399.04" font-size="25.4" text-anchor="end">0.5</text>
<text x="67.6" y="351.39" font-size="25.4" text-anchor="end">1.0</text>
<text x="67.6" y="303.73" font-size="25.4" text-anchor="end">1.5</text>
<text x="67.6" y="256.08" font-size="25.4" text-anchor="end">2.0</text>
<text x="67.6" y="208.42" font-size="25.4" text-anchor="end">2.5</text>
<text x="67.6" y="160.77" font-size="25.4" text-anchor="end">3.0</text>
<text x="67.6" y="113.11" font-size="25.4" text-anchor="end">3.5</text>
<text x="67.6" y="65.46" font-size="25.4" text-anchor="end">4.0</text>
<text x="67.6" y="17.80" font-size="25.4" text-anchor="end">4.5</text>
<text x="276.4" y="503.8" font-size="31.4">Wavelength (nm)</text>
<text transform="translate(22 291.6) rotate(-90)" font-size="31.2">Absorbance</text>
<path d="M417.7 50.60H464.4" stroke="#000" stroke-width="3.3" stroke-linecap="round"/>
<text x="471.5" y="57.70" font-size="24.4">bare TiO<tspan font-size="18.6" dy="8.4">2</tspan></text>
<path d="M417.7 88.95H464.4" stroke="#e8141c" stroke-width="3.3" stroke-linecap="round"/>
<text x="471.5" y="96.05" font-size="24.4">NiFe<tspan font-size="18.6" dy="8.4">2</tspan><tspan dy="-8.4">O</tspan><tspan font-size="18.6" dy="8.4">4</tspan><tspan dy="-8.4">/TiO</tspan><tspan font-size="18.6" dy="8.4">2</tspan></text>
<path d="M417.7 127.30H464.4" stroke="#1414d8" stroke-width="3.3" stroke-linecap="round"/>
<text x="471.5" y="134.40" font-size="24.4">CoFe<tspan font-size="18.6" dy="8.4">2</tspan><tspan dy="-8.4">O</tspan><tspan font-size="18.6" dy="8.4">4</tspan><tspan dy="-8.4">/TiO</tspan><tspan font-size="18.6" dy="8.4">2</tspan></text>
<path d="M417.7 165.65H464.4" stroke="#0f7b7b" stroke-width="3.3" stroke-linecap="round"/>
<text x="471.5" y="172.75" font-size="24.4">ZnFe<tspan font-size="18.6" dy="8.4">2</tspan><tspan dy="-8.4">O</tspan><tspan font-size="18.6" dy="8.4">4</tspan><tspan dy="-8.4">/TiO</tspan><tspan font-size="18.6" dy="8.4">2</tspan></text>
<path d="M417.7 204.00H464.4" stroke="#ee14ee" stroke-width="3.3" stroke-linecap="round"/>
<text x="471.5" y="211.10" font-size="24.4">SrFe<tspan font-size="18.6" dy="8.4">2</tspan><tspan dy="-8.4">O</tspan><tspan font-size="18.6" dy="8.4">4</tspan><tspan dy="-8.4">/TiO</tspan><tspan font-size="18.6" dy="8.4">2</tspan></text>
</svg></body></html>
